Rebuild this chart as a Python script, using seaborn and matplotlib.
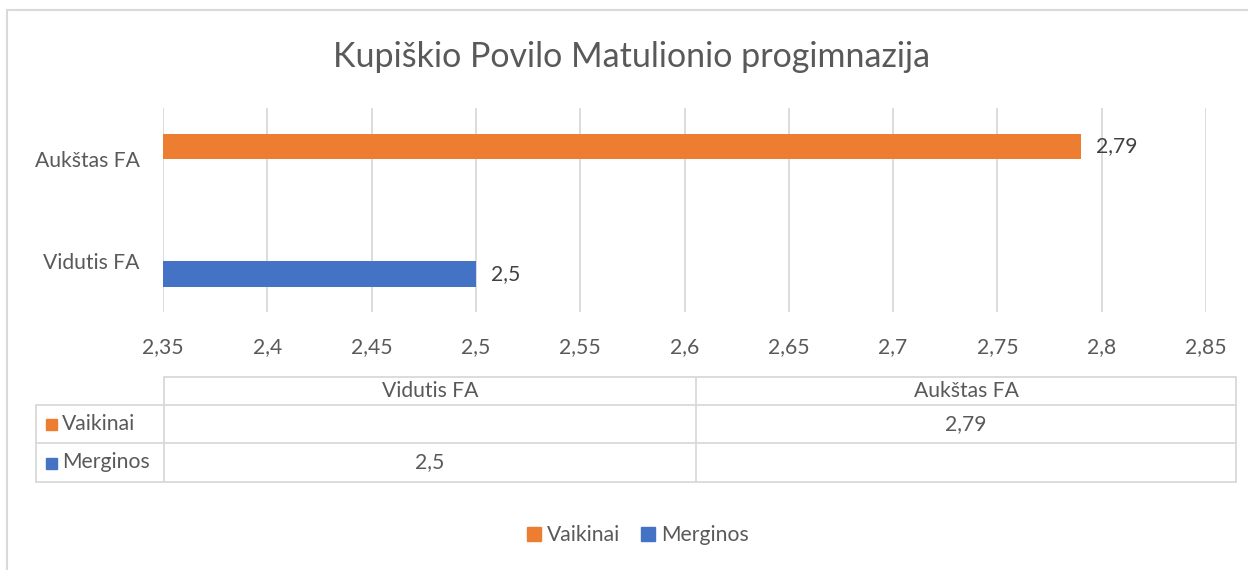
import matplotlib
matplotlib.use("Agg")
import matplotlib.pyplot as plt
import seaborn as sns
import pandas as pd
import numpy as np
from matplotlib.lines import Line2D
from matplotlib.patches import Rectangle

title = "Kupiškio Povilo Matulionio progimnazija"
categories = ["Aukštas FA", "Vidutis FA"]          # top to bottom in the chart
table_columns = ["Vidutis FA", "Aukštas FA"]       # order in the data table
series = ["Vaikinai", "Merginos"]
vaikinai = {"Vidutis FA": None, "Aukštas FA": 2.79}
merginos = {"Vidutis FA": 2.5, "Aukštas FA": None}
x_ticks = [2.35, 2.4, 2.45, 2.5, 2.55, 2.6, 2.65, 2.7, 2.75, 2.8, 2.85]
colors = ["#ED7D31", "#4472C4"]

sns.set_theme(style="white")
plt.rcParams["font.family"] = ["Lato", "DejaVu Sans"]
TXT = "#595959"
GRID = "#D9D9D9"
FS = 15.2

rows = []
for cat in categories:
    for s, d in zip(series, [vaikinai, merginos]):
        if d[cat] is not None:
            rows.append({"cat": cat, "series": s, "value": d[cat]})
df = pd.DataFrame(rows)

W, H = 1248, 570
fig = plt.figure(figsize=(W / 100, H / 100), dpi=100)
ax = fig.add_axes([163 / W, 1 - 312 / H, (1206 - 163) / W, (312 - 108) / H])

sns.barplot(data=df, x="value", y="cat", hue="series", order=categories,
            hue_order=series, palette=colors, orient="h", width=0.5,
            dodge=True, ax=ax, legend=False, saturation=1, linewidth=0)

ax.set_xlim(x_ticks[0], x_ticks[-1])
ax.set_ylim(1.5, -0.5)
ax.set_xticks(x_ticks)
ax.set_xticklabels([f"{t:g}".replace(".", ",") for t in x_ticks], color=TXT, fontsize=FS)
ax.tick_params(axis="x", pad=18, length=0)
ax.tick_params(axis="y", pad=17, length=0)
ax.set_yticklabels(categories, color=TXT, fontsize=FS)
ax.set_xlabel("")
ax.set_ylabel("")
for sp in ax.spines.values():
    sp.set_visible(False)
ax.grid(axis="x", color=GRID, linewidth=1.3)
ax.set_axisbelow(True)

for cont in ax.containers:
    for bar in cont:
        w = bar.get_width()
        if np.isnan(w) or w == 0:
            continue
        ax.annotate(f"{w:g}".replace(".", ","), (w, bar.get_y() + bar.get_height() / 2),
                    xytext=(11, 0), textcoords="offset points", va="center", ha="left",
                    color="#404040", fontsize=FS)

fig.text(632 / W, 1 - 57 / H, title, ha="center", va="center", color=TXT, fontsize=24.5)

# chart frame
def px_line(x0, y0, x1, y1, color=GRID, lw=1.3):
    fig.add_artist(Line2D([x0 / W, x1 / W], [1 - y0 / H, 1 - y1 / H], color=color,
                          linewidth=lw, transform=fig.transFigure))

px_line(7, 10, 1248, 10, color="#D9D9D9", lw=1.5)
px_line(7, 10, 7, 570, color="#D9D9D9", lw=1.5)

# data table
tx = [36, 164, 696, 1236]
ty = [377, 405, 443, 482]
px_line(tx[1], ty[0], tx[3], ty[0])
for y in ty[1:]:
    px_line(tx[0], y, tx[3], y)
px_line(tx[0], ty[1], tx[0], ty[3])
for x in tx[1:]:
    px_line(x, ty[0], x, ty[3])

for j, col in enumerate(table_columns):
    fig.text((tx[j + 1] + tx[j + 2]) / 2 / W, 1 - (ty[0] + ty[1]) / 2 / H, col,
             ha="center", va="center", color=TXT, fontsize=FS)
for i, (s, d, c) in enumerate(zip(series, [vaikinai, merginos], colors)):
    yc = (ty[i + 1] + ty[i + 2]) / 2
    fig.add_artist(Rectangle(((tx[0] + 10) / W, 1 - (yc + 6) / H), 11 / W, 11 / H,
                             color=c, transform=fig.transFigure))
    fig.text((tx[0] + 26) / W, 1 - yc / H, s, ha="left", va="center", color=TXT, fontsize=FS)
    for j, col in enumerate(table_columns):
        v = d[col]
        if v is not None:
            fig.text((tx[j + 1] + tx[j + 2]) / 2 / W, 1 - yc / H, f"{v:g}".replace(".", ","),
                     ha="center", va="center", color=TXT, fontsize=FS)

# legend
handles = [Rectangle((0, 0), 1, 1, color=c) for c in colors]
fig.legend(handles, series, loc="center", bbox_to_anchor=(638 / W, 1 - 535 / H),
           ncol=2, frameon=False, fontsize=FS, handlelength=0.65, handleheight=0.65,
           handletextpad=0.3, columnspacing=1.0, labelcolor=TXT)

fig.savefig("out.png", dpi=100, facecolor="white")
